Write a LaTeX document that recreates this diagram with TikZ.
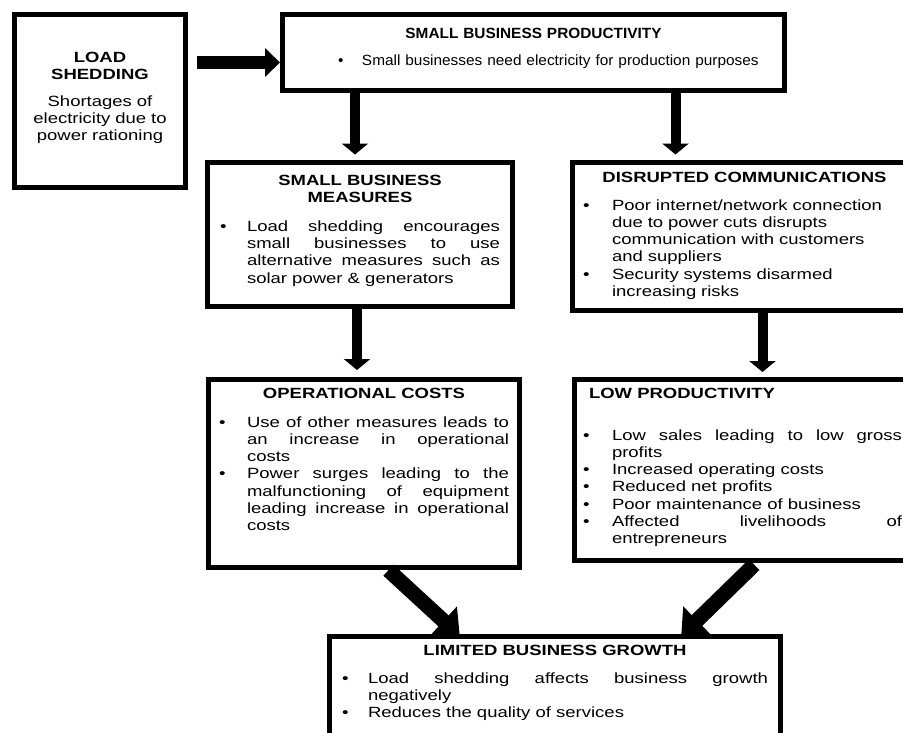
\documentclass[tikz,border=0pt]{standalone}
\usepackage{fontspec}
\setmainfont{Liberation Sans}[FakeStretch=1.25]
\newfontfamily\sbpfont{Liberation Sans}[FakeStretch=1.04]
\usepackage{tikz}
\usetikzlibrary{positioning, arrows.meta, calc}

\tolerance=10000
\hbadness=10000
\hfuzz=6pt

% bullet list with the bullet flush left
\newenvironment{bullets}[1]{\begin{list}{\textbullet}{%
  \setlength{\leftmargin}{#1}\setlength{\labelwidth}{#1}%
  \setlength{\labelsep}{0pt}\setlength{\itemindent}{0pt}%
  \setlength{\itemsep}{0pt}\setlength{\parsep}{0pt}%
  \setlength{\topsep}{0pt}\setlength{\partopsep}{0pt}%
  \setlength{\rightmargin}{0pt}\setlength{\listparindent}{0pt}%
  \renewcommand{\makelabel}[1]{##1\hfil}}}{\end{list}}

\begin{document}
\begin{tikzpicture}[x=1pt, y=-1pt,
    box/.style={draw, line width=5pt, outer sep=0pt, anchor=north west, inner ysep=0pt, font=\fontsize{14.8}{17.3}\selectfont},
    harrow/.style={line width=13pt, -{Triangle[length=15pt, width=28pt]}},
    varrow/.style={line width=10pt, -{Triangle[length=11pt, width=26pt]}},
    darrow/.style={line width=15pt, -{Triangle[length=22pt, width=38pt]}}
]
\useasboundingbox (0,0) rectangle (903,732);
\clip (0,0) rectangle (903,732);

% Boxes
\node[box, text width=151pt, inner xsep=10pt, text height=47.5pt, text depth=125.5pt, align=center] (ls) at (14.5,14.5)
  {\centering{\bfseries LOAD\par SHEDDING\par}\vspace{9.7pt}
   Shortages of\par electricity due to\par power rationing\par};

\node[box, text width=477pt, inner xsep=12.5pt, text height=24pt, text depth=52pt, align=left, font=\sbpfont\fontsize{14.8}{17.3}\selectfont] (sbp) at (282.5,14.5)
  {{\centering\bfseries SMALL BUSINESS PRODUCTIVITY\par}\vspace{9.2pt}
   \hspace*{43pt}\makebox[24pt][l]{\textbullet}Small businesses need electricity for production purposes};

\node[box, text width=280pt, inner xsep=12.5pt, text height=22.5pt, text depth=121.5pt, align=justify] (sbm) at (207.5,162.5)
  {{\centering\bfseries SMALL BUSINESS\par MEASURES\par}\vspace{11.7pt}
   \begin{bullets}{27pt}
   \item Load shedding encourages\linebreak small businesses to use\linebreak alternative measures such as\linebreak solar power \& generators
   \end{bullets}};

\node[box, text width=323pt, inner xsep=10.5pt, text height=19.5pt, text depth=128.5pt, align=left] (dc) at (572.5,162.5)
  {{\centering\bfseries DISRUPTED COMMUNICATIONS\par}\vspace{10.7pt}
   \begin{bullets}{29pt}
   \item Poor internet/network connection\newline due to power cuts disrupts\newline communication with customers\newline and suppliers
   \item Security systems disarmed\newline increasing risks
   \end{bullets}};

\node[box, text width=290pt, inner xsep=10.5pt, text height=18.5pt, text depth=169.5pt, align=justify] (oc) at (208.5,379.5)
  {{\centering\bfseries OPERATIONAL COSTS\par}\vspace{11.7pt}
   \begin{bullets}{28pt}
   \item Use of other measures leads to\linebreak an increase in operational\linebreak costs
   \item Power surges leading to the\linebreak malfunctioning of equipment\linebreak leading increase in operational\linebreak costs
   \end{bullets}};

\node[box, text width=319pt, inner xsep=8.5pt, text height=18.5pt, text depth=162.5pt, align=justify] (lp) at (574.5,379.5)
  {{\bfseries\hspace*{6pt}LOW PRODUCTIVITY\par}\vspace{24.7pt}
   \begin{bullets}{29pt}
   \item Low sales leading to low gross\linebreak profits
   \item Increased operating costs
   \item Reduced net profits
   \item Poor maintenance of business
   \item Affected livelihoods of\linebreak entrepreneurs
   \end{bullets}};

\node[box, text width=426pt, inner xsep=12.5pt, text height=18.5pt, text depth=100pt, align=justify] (lbg) at (329.5,636.5)
  {{\centering\bfseries LIMITED BUSINESS GROWTH\par}\vspace{10.7pt}
   \begin{bullets}{26pt}
   \item Load shedding affects business growth\linebreak negatively
   \item Reduces the quality of services
   \end{bullets}};

% Block arrows
\draw[harrow, shorten <=11.5pt, shorten >=2.5pt] ($(ls.east |- sbp.west)+(0,10)$) -- ($(sbp.west)+(0,10)$);
\draw[varrow, shorten >=8pt] ($(sbm.north |- sbp.south)+(-5,0)$) -- ($(sbm.north)+(-5,0)$);
\draw[varrow, shorten >=8pt] ($(dc.north west |- sbp.south)+(103,0)$) -- ($(dc.north west)+(103,0)$);
\draw[varrow, shorten >=9.5pt] ($(oc.north |- sbm.south)+(-7,0)$) -- ($(oc.north)+(-7,0)$);
\draw[varrow, shorten >=7.5pt] ($(lp.north west |- dc.south)+(188,0)$) -- ($(lp.north west)+(188,0)$);
\draw[darrow, shorten <=4pt, shorten >=1pt] ($(oc.south west)+(177,0)$) -- ($(lbg.north west)+(131,0)$);
\draw[darrow, shorten <=6pt, shorten >=1pt] ($(lp.south west)+(184,0)$) -- ($(lbg.north east)+(-100,0)$);

\end{tikzpicture}
\end{document}
